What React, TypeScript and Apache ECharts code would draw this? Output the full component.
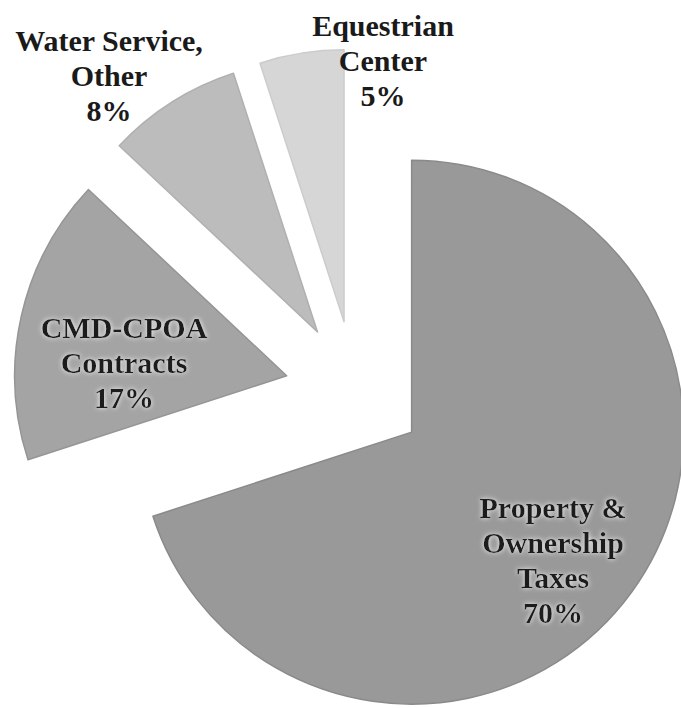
import React, { useEffect, useRef } from "react";
import * as echarts from "echarts";

const categories = [
  "Property &\nOwnership\nTaxes",
  "CMD-CPOA\nContracts",
  "Water Service,\nOther",
  "Equestrian\nCenter",
];
const shares = [70, 17, 8, 5];
const sliceColors = ["#999999", "#a4a4a4", "#bcbcbc", "#d6d6d6"];
const sliceEdges = ["#8a8a8a", "#959595", "#b0b0b0", "#cccccc"];
const labelSpots = [
  [553, 560],
  [124, 362],
  [109, 75],
  [383, 60],
];

export default function App() {
  const ref = useRef<HTMLDivElement>(null);
  useEffect(() => {
    if (!ref.current) return;
    const chart = echarts.init(ref.current, undefined, { renderer: "svg" });
    const font = "'Liberation Serif', 'Times New Roman', serif";
    const cx = 355;
    const cy = 391;
    const explode = 70;
    const total = shares.reduce((a, b) => a + b, 0);
    let acc = 0;
    const series = shares.map((v, k) => {
      const mid = ((acc + v / 2) / total) * Math.PI * 2;
      acc += v;
      return {
        type: "pie",
        center: [cx + explode * Math.sin(mid), cy - explode * Math.cos(mid)],
        radius: [0, 272],
        startAngle: 90,
        clockwise: true,
        silent: true,
        emphasis: { disabled: true },
        labelLine: { show: false },
        label: {
          show: true,
          position: "inside",
          formatter: (p: any) => `${p.name}\n${p.value}%`,
          fontFamily: font,
          fontWeight: "bold",
          fontSize: 30,
          lineHeight: 35,
          color: "#1a1a1a",
          align: "center",
          ...(k < 2
            ? { textShadowColor: "rgba(255,255,255,0.95)", textShadowBlur: 5 }
            : {}),
        },
        labelLayout: (p: any) => {
          const s = labelSpots[p.dataIndex];
          return { x: s[0], y: s[1], align: "center", verticalAlign: "middle" };
        },
        data: categories.map((name, i) => ({
          name,
          value: shares[i],
          itemStyle:
            i === k
              ? { color: sliceColors[i], borderColor: sliceEdges[i], borderWidth: 1.5 }
              : { color: "rgba(0,0,0,0)", borderWidth: 0 },
          label: { show: i === k },
        })),
      };
    });
    chart.setOption({
      animation: false,
      backgroundColor: "#ffffff",
      series,
    });
    return () => chart.dispose();
  }, []);
  return (
    <div
      ref={ref}
      style={{ position: "fixed", left: 0, top: 0, width: 681, height: 708 }}
    />
  );
}
